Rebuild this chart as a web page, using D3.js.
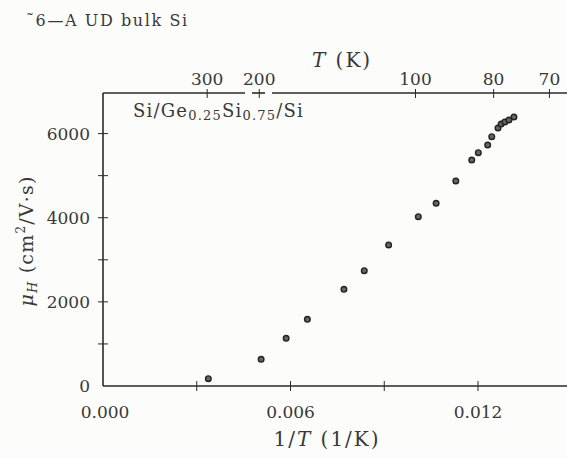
<!DOCTYPE html>
<html>
<head>
<meta charset="utf-8">
<script src="https://cdn.jsdelivr.net/npm/d3@7"></script>
<style>
  body { margin: 0; background: #fcfcfa; }
  text { font-family: "DejaVu Serif", "Liberation Serif", serif; fill: #383838; }
</style>
</head>
<body>
<div id="chart"></div>
<script>
// Hall mobility vs inverse temperature, Si/Ge0.25Si0.75/Si
const width = 567;
const height = 458;

const invT = [0.00337, 0.00506, 0.00586, 0.00654, 0.00771, 0.00836, 0.00914, 0.01009, 0.01066,
    0.01129, 0.01180, 0.01201, 0.01231, 0.01244, 0.01264, 0.01274, 0.01286, 0.01299, 0.01315];
const mobility = [174, 635, 1134, 1586, 2299, 2741, 3352, 4024, 4343,
    4873, 5372, 5546, 5729, 5926, 6133, 6228, 6275, 6323, 6394];

const xTicks = [0, 0.003, 0.006, 0.009, 0.012];
const xTickLabels = ["0.000", "", "0.006", "", "0.012"];
const yTicks = [0, 1000, 2000, 3000, 4000, 5000, 6000];
const yTickLabels = ["0", "", "2000", "", "4000", "", "6000"];
const tempTicks = [300, 200, 100, 80, 70];

const margin = { left: 103, top: 93, bottom: 386 };

const svg = d3.select("#chart")
    .append("svg")
    .attr("width", width)
    .attr("height", height);

const x = d3.scaleLinear().domain([0, 0.0149]).range([margin.left, margin.left + 0.0149 * 31250]);
const y = d3.scaleLinear().domain([0, 7000]).range([margin.bottom, margin.bottom - 7000 * 0.04207]);

const ink = "#2a2a2a";

// title line from the scanned page
svg.append("text")
    .attr("x", 26).attr("y", 26)
    .attr("font-size", 16)
    .attr("letter-spacing", 1.6)
    .text("\u02DC6\u2014A UD bulk Si");

// bottom axis
const bottomAxis = svg.append("g").attr("transform", `translate(0,${margin.bottom})`);
bottomAxis.append("line")
    .attr("x1", margin.left).attr("x2", width)
    .attr("stroke", ink).attr("stroke-width", 1.6);
bottomAxis.selectAll("line.tick").data(xTicks.slice(1)).enter().append("line")
    .attr("x1", d => x(d)).attr("x2", d => x(d))
    .attr("y1", -5).attr("y2", 5)
    .attr("stroke", ink).attr("stroke-width", 1);
bottomAxis.selectAll("text").data(xTicks).enter().append("text")
    .attr("x", (d, i) => i === 0 ? x(d) + 2 : x(d))
    .attr("y", 32)
    .attr("text-anchor", "middle")
    .attr("font-size", 17)
    .text((d, i) => xTickLabels[i]);

svg.append("text")
    .attr("x", 327).attr("y", 446)
    .attr("text-anchor", "middle")
    .attr("font-size", 20)
    .attr("letter-spacing", 2)
    .html('1/<tspan font-style="italic">T</tspan> (1/K)');

// left axis
const leftAxis = svg.append("g").attr("transform", `translate(${margin.left},0)`);
leftAxis.append("line")
    .attr("y1", margin.bottom).attr("y2", margin.top)
    .attr("stroke", ink).attr("stroke-width", 1.6);
leftAxis.selectAll("line.tick").data(yTicks.slice(1)).enter().append("line")
    .attr("y1", d => y(d)).attr("y2", d => y(d))
    .attr("x1", -5).attr("x2", 5)
    .attr("stroke", ink).attr("stroke-width", 1);
leftAxis.selectAll("text").data(yTicks).enter().append("text")
    .attr("x", -13)
    .attr("y", d => y(d) + 6)
    .attr("text-anchor", "end")
    .attr("font-size", 17)
    .text((d, i) => yTickLabels[i]);

svg.append("text")
    .attr("transform", "translate(33,241) rotate(-90)")
    .attr("text-anchor", "middle")
    .attr("font-size", 19)
    .attr("letter-spacing", 1.2)
    .html('<tspan font-style="italic">\u03BC</tspan><tspan font-style="italic" font-size="13" dy="4">H</tspan><tspan dy="-4"> (cm</tspan><tspan font-size="12" dy="-8">2</tspan><tspan dy="8">/V\u00B7s)</tspan>');

// top axis in temperature, with a break near 200 K
const topAxis = svg.append("g").attr("transform", `translate(0,${margin.top})`);
const topSegs = [[margin.left, 245], [252, 265], [272, width]];
topAxis.selectAll("line.seg").data(topSegs).enter().append("line")
    .attr("x1", d => d[0]).attr("x2", d => d[1])
    .attr("stroke", ink).attr("stroke-width", 1.6);
topAxis.selectAll("line.tick").data(tempTicks).enter().append("line")
    .attr("x1", d => x(1 / d)).attr("x2", d => x(1 / d))
    .attr("y1", -4).attr("y2", 5)
    .attr("stroke", ink).attr("stroke-width", 1);
topAxis.selectAll("text").data(tempTicks).enter().append("text")
    .attr("x", d => x(1 / d))
    .attr("y", -8)
    .attr("text-anchor", "middle")
    .attr("font-size", 17)
    .text(d => d);

svg.append("text")
    .attr("x", 342).attr("y", 67)
    .attr("text-anchor", "middle")
    .attr("font-size", 20)
    .attr("letter-spacing", 2)
    .html('<tspan font-style="italic">T</tspan> (K)');

// sample label
svg.append("text")
    .attr("x", 133).attr("y", 117)
    .attr("font-size", 18)
    .attr("letter-spacing", 1.2)
    .html('Si/Ge<tspan font-size="13" dy="3">0.25</tspan><tspan dy="-3">Si</tspan><tspan font-size="13" dy="3">0.75</tspan><tspan dy="-3">/Si</tspan>');

// data points
svg.append("g")
    .selectAll("circle")
    .data(invT)
    .enter().append("circle")
    .attr("cx", d => x(d))
    .attr("cy", (d, i) => y(mobility[i]))
    .attr("r", 2.8)
    .attr("fill", "#666")
    .attr("stroke", "#222")
    .attr("stroke-width", 1.4);
</script>
</body>
</html>
